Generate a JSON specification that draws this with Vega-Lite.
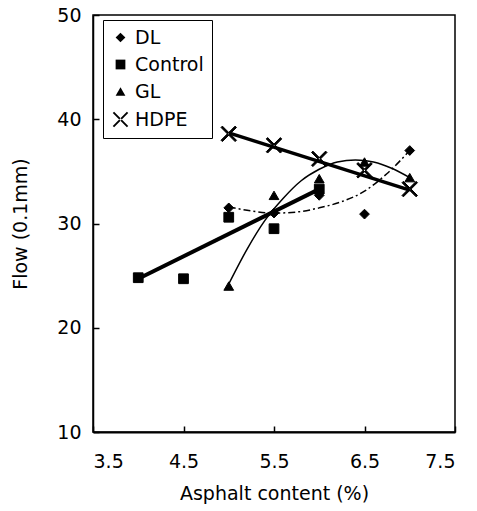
{
  "$schema": "https://vega.github.io/schema/vega-lite/v6.json",
  "width": 362,
  "height": 417,
  "autosize": {"type": "none"},
  "padding": {"left": 93, "top": 15, "right": 22, "bottom": 79},
  "background": "white",
  "config": {
    "font": "DejaVu Sans",
    "view": {"stroke": "black", "strokeWidth": 1.5},
    "axis": {
      "grid": false,
      "domainColor": "black",
      "domainWidth": 1.5,
      "ticks": true,
      "tickColor": "black",
      "tickSize": -6,
      "tickWidth": 1.5,
      "labelColor": "black",
      "titleColor": "black",
      "labelFont": "DejaVu Sans",
      "titleFont": "DejaVu Sans",
      "labelFontSize": 19,
      "titleFontSize": 19,
      "titleFontWeight": "normal"
    },
    "legend": {
      "labelFont": "DejaVu Sans",
      "labelFontSize": 19,
      "labelColor": "black"
    }
  },
  "datasets": {
    "pts": [
      {"series": "DL", "x": 5.0, "y": 31.5},
      {"series": "DL", "x": 5.5, "y": 31.0},
      {"series": "DL", "x": 6.0, "y": 32.7},
      {"series": "DL", "x": 6.5, "y": 30.9},
      {"series": "DL", "x": 7.0, "y": 37.0},
      {"series": "Control", "x": 4.0, "y": 24.8},
      {"series": "Control", "x": 4.5, "y": 24.7},
      {"series": "Control", "x": 5.0, "y": 30.6},
      {"series": "Control", "x": 5.5, "y": 29.5},
      {"series": "Control", "x": 6.0, "y": 33.3},
      {"series": "GL", "x": 5.0, "y": 24.0},
      {"series": "GL", "x": 5.5, "y": 32.7},
      {"series": "GL", "x": 6.0, "y": 34.3},
      {"series": "GL", "x": 6.5, "y": 35.9},
      {"series": "GL", "x": 7.0, "y": 34.4},
      {"series": "HDPE", "x": 5.0, "y": 38.6},
      {"series": "HDPE", "x": 5.5, "y": 37.5},
      {"series": "HDPE", "x": 6.0, "y": 36.2},
      {"series": "HDPE", "x": 6.5, "y": 35.1},
      {"series": "HDPE", "x": 7.0, "y": 33.3}
    ],
    "fits": [
      {"series": "DL", "x": 5.0, "y": 31.6},
      {"series": "DL", "x": 5.25, "y": 31.2},
      {"series": "DL", "x": 5.5, "y": 31.0},
      {"series": "DL", "x": 5.75, "y": 31.1},
      {"series": "DL", "x": 6.0, "y": 31.5},
      {"series": "DL", "x": 6.25, "y": 32.1},
      {"series": "DL", "x": 6.5, "y": 33.1},
      {"series": "DL", "x": 6.75, "y": 34.8},
      {"series": "DL", "x": 7.0, "y": 37.0},
      {"series": "Control", "x": 4.0, "y": 24.7},
      {"series": "Control", "x": 6.0, "y": 33.3},
      {"series": "GL", "x": 5.0, "y": 24.2},
      {"series": "GL", "x": 5.2, "y": 27.5},
      {"series": "GL", "x": 5.4, "y": 30.3},
      {"series": "GL", "x": 5.6, "y": 32.4},
      {"series": "GL", "x": 5.8, "y": 34.1},
      {"series": "GL", "x": 6.0, "y": 35.2},
      {"series": "GL", "x": 6.2, "y": 35.9},
      {"series": "GL", "x": 6.4, "y": 36.1},
      {"series": "GL", "x": 6.6, "y": 35.9},
      {"series": "GL", "x": 6.8, "y": 35.3},
      {"series": "GL", "x": 7.0, "y": 34.4},
      {"series": "HDPE", "x": 5.0, "y": 38.7},
      {"series": "HDPE", "x": 7.0, "y": 33.2}
    ]
  },
  "encoding": {
    "x": {
      "field": "x", "type": "quantitative",
      "scale": {"domain": [3.5, 7.5], "nice": false, "zero": false},
      "axis": {"values": [3.5, 4.5, 5.5, 6.5, 7.5], "format": ".1f", "title": "Asphalt content (%)", "labelPadding": 26, "titlePadding": 13, "domainWidth": 2}
    },
    "y": {
      "field": "y", "type": "quantitative",
      "scale": {"domain": [10, 50], "nice": false, "zero": false},
      "axis": {"values": [10, 20, 30, 40, 50], "title": "Flow (0.1mm)", "labelPadding": 18, "titlePadding": 26}
    }
  },
  "layer": [
    {
      "data": {"name": "fits"},
      "transform": [{"filter": "datum.series === 'DL'"}],
      "mark": {"type": "line", "color": "black", "interpolate": "monotone", "strokeWidth": 1.5, "strokeDash": [7, 3, 2, 3]}
    },
    {
      "data": {"name": "fits"},
      "transform": [{"filter": "datum.series === 'Control'"}],
      "mark": {"type": "line", "color": "black", "strokeWidth": 4}
    },
    {
      "data": {"name": "fits"},
      "transform": [{"filter": "datum.series === 'GL'"}],
      "mark": {"type": "line", "color": "black", "interpolate": "monotone", "strokeWidth": 1.5}
    },
    {
      "data": {"name": "fits"},
      "transform": [{"filter": "datum.series === 'HDPE'"}],
      "mark": {"type": "line", "color": "black", "strokeWidth": 3.5}
    },
    {
      "data": {"name": "pts"},
      "mark": {"type": "point", "filled": true, "color": "black", "stroke": "black", "strokeWidth": 1, "opacity": 1, "size": 95},
      "encoding": {
        "shape": {
          "field": "series", "type": "nominal",
          "scale": {"domain": ["DL", "Control", "GL", "HDPE"], "range": ["diamond", "square", "triangle-up", "M-1.31,-1.59L1.59,1.31L1.31,1.59L-1.59,-1.31ZM1.31,-1.59L-1.59,1.31L-1.31,1.59L1.59,-1.31Z"]},
          "legend": {
            "title": null,
            "orient": "none",
            "legendX": 10,
            "legendY": 5,
            "strokeColor": "black",
            "fillColor": "white",
            "padding": 8,
            "rowPadding": 7,
            "symbolFillColor": "black",
            "symbolStrokeColor": "black",
            "symbolStrokeWidth": 1,
            "symbolSize": 95,
            "labelOffset": 5
          }
        }
      }
    }
  ]
}
